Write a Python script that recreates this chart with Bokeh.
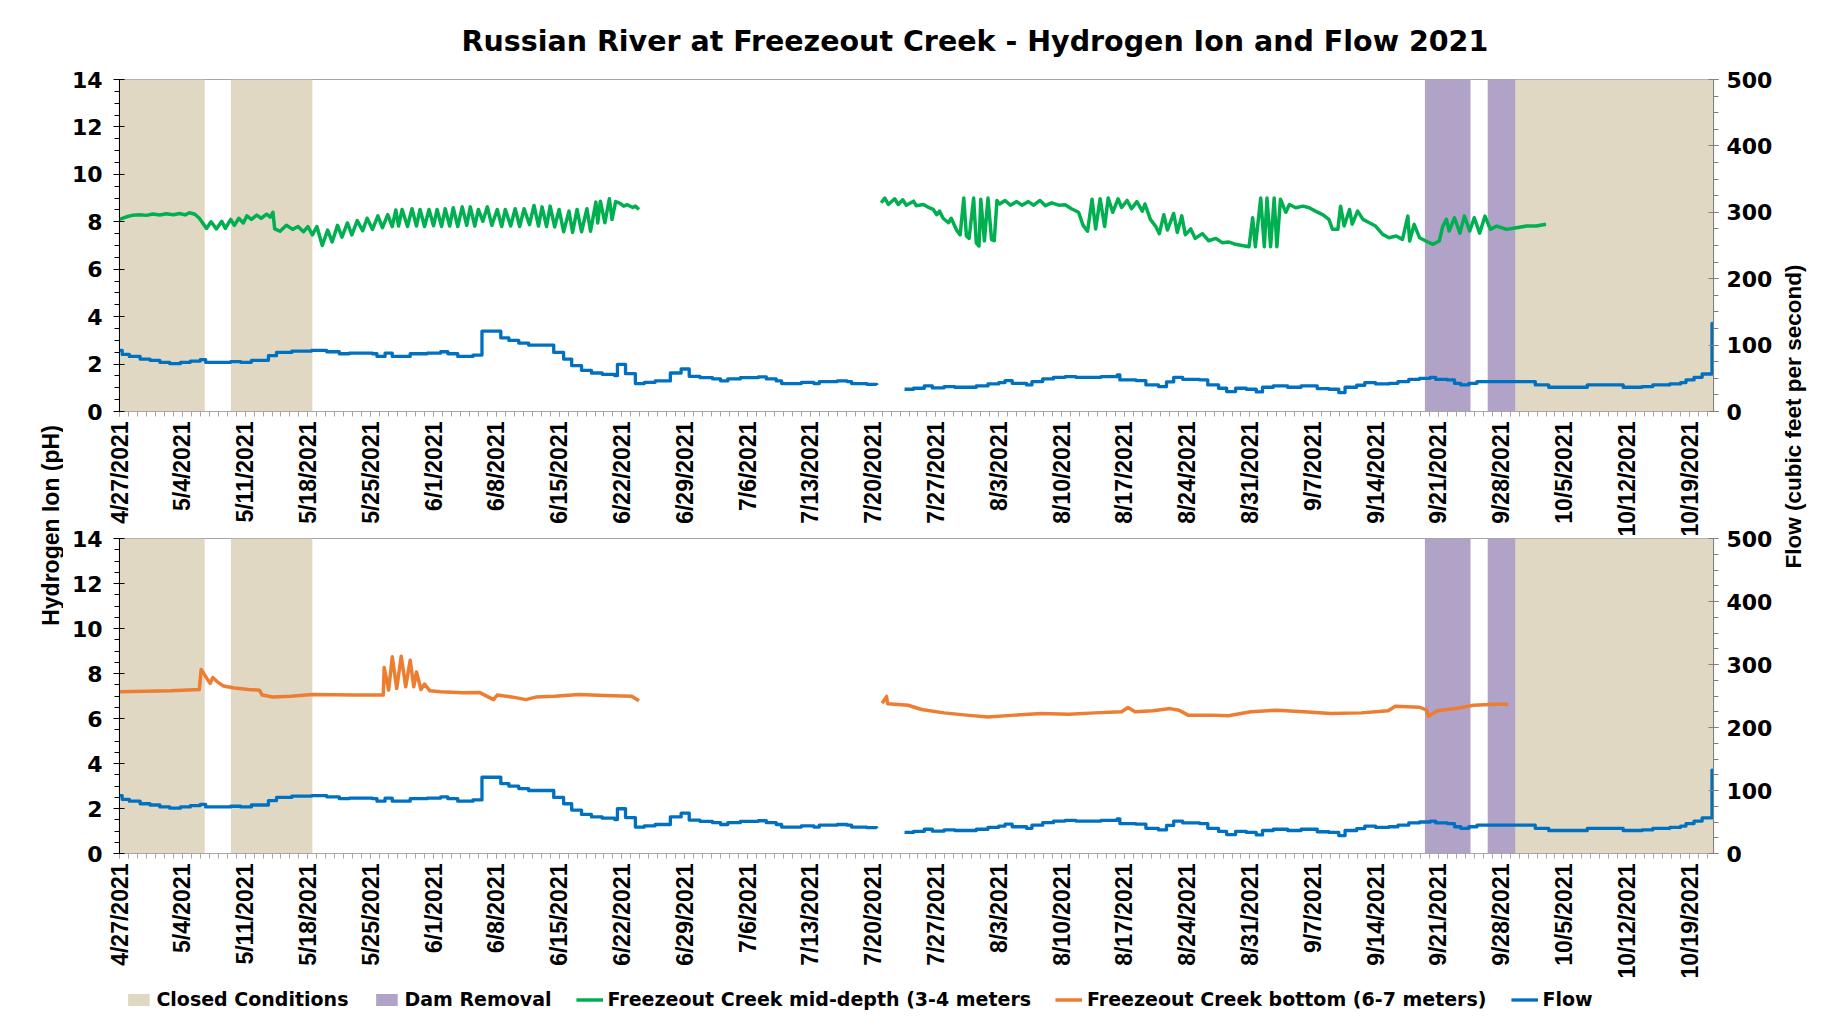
import numpy as np
import pandas as pd
from bokeh.plotting import figure
from bokeh.models import Range1d, LinearAxis, FixedTicker, DatetimeTickFormatter, Label, Legend, LegendItem
from bokeh.layouts import row, column
from bokeh.embed import file_html
from bokeh.resources import INLINE

# ---------------- data ----------------
START = "2021-04-27 00:00"
X_END = "2021-10-21 16:00"

week_labels = ["4/27/2021", "5/4/2021", "5/11/2021", "5/18/2021", "5/25/2021", "6/1/2021",
               "6/8/2021", "6/15/2021", "6/22/2021", "6/29/2021", "7/6/2021", "7/13/2021",
               "7/20/2021", "7/27/2021", "8/3/2021", "8/10/2021", "8/17/2021", "8/24/2021",
               "8/31/2021", "9/7/2021", "9/14/2021", "9/21/2021", "9/28/2021", "10/5/2021",
               "10/12/2021", "10/19/2021"]

closed_start = ["2021-04-27 00:00", "2021-05-09 10:00", "2021-09-29 14:00"]
closed_end = ["2021-05-06 12:00", "2021-05-18 12:00", "2021-10-21 16:00"]
dam_start = ["2021-09-19 12:00", "2021-09-26 12:00"]
dam_end = ["2021-09-24 14:00", "2021-09-29 14:00"]

# mid-depth pH (days since 4/27/2021)
mid1_day = [0.0, 0.7, 1.5, 2.2, 3.0, 3.7, 4.5, 5.2, 6.0, 6.7,
            7.3, 7.8, 8.4, 8.9, 9.7, 10.2, 10.8, 11.4, 11.8, 12.4,
            12.8, 13.3, 13.8, 14.2, 14.7, 15.3, 15.8, 16.4, 16.8, 17.1,
            17.3, 17.9, 18.6, 19.3, 19.9, 20.5, 21.0, 21.5, 22.0, 22.6,
            23.2, 23.7, 24.3, 24.8, 25.4, 25.9, 26.5, 27.1, 27.6, 28.2,
            28.8, 29.3, 29.9, 30.4, 30.8, 31.1, 31.5, 32.1, 32.6, 33.1,
            33.5, 34.0, 34.5, 35.0, 35.4, 35.9, 36.3, 36.8, 37.2, 37.7,
            38.2, 38.7, 39.1, 39.6, 40.0, 40.5, 41.0, 41.5, 42.1, 42.6,
            43.0, 43.6, 44.1, 44.6, 45.1, 45.7, 46.2, 46.7, 47.1, 47.6,
            48.0, 48.5, 49.0, 49.5, 50.1, 50.5, 51.0, 51.5, 52.1, 52.5,
            53.1, 53.3, 53.6, 54.1, 54.6, 54.9, 55.3, 55.8, 56.2, 56.6,
            57.2, 57.5, 57.9]
mid1_ph = [8.10, 8.20, 8.28, 8.30, 8.27, 8.33, 8.29, 8.34, 8.30, 8.35,
           8.29, 8.38, 8.32, 8.15, 7.72, 8.00, 7.70, 8.02, 7.72, 8.10,
           7.85, 8.15, 7.95, 8.25, 8.10, 8.28, 8.15, 8.32, 8.20, 8.40,
           7.70, 7.60, 7.85, 7.68, 7.80, 7.58, 7.80, 7.45, 7.80, 7.00,
           7.65, 7.15, 7.85, 7.35, 7.95, 7.45, 8.05, 7.62, 8.15, 7.68,
           8.25, 7.75, 8.30, 7.80, 8.50, 7.82, 8.52, 7.80, 8.55, 7.82,
           8.52, 7.80, 8.52, 7.83, 8.52, 7.80, 8.55, 7.82, 8.59, 7.80,
           8.63, 7.85, 8.63, 7.82, 8.52, 8.02, 8.63, 7.85, 8.52, 7.80,
           8.52, 7.82, 8.55, 7.80, 8.55, 7.88, 8.69, 7.82, 8.63, 7.80,
           8.66, 7.78, 8.52, 7.58, 8.45, 7.55, 8.52, 7.58, 8.55, 7.60,
           8.83, 7.95, 8.87, 7.96, 8.97, 8.10, 8.85, 8.78, 8.66, 8.72,
           8.60, 8.66, 8.52]

mid2_day = [84.9, 85.3, 85.7, 86.4, 86.8, 87.3, 87.7, 88.5, 88.8, 89.6,
            90.1, 90.7, 91.1, 91.4, 91.8, 92.4, 92.7, 93.3, 93.7, 94.1,
            94.4, 94.7, 95.2, 95.5, 95.8, 96.0, 96.4, 96.8, 97.2, 97.5,
            97.8, 98.1, 98.7, 99.3, 100.0, 100.6, 101.3, 101.9, 102.6, 103.2,
            103.9, 104.7, 105.4, 106.1, 106.9, 107.4, 107.9, 108.4, 108.8, 109.3,
            109.8, 110.2, 110.7, 111.3, 111.7, 112.3, 112.8, 113.4, 114.0, 114.3,
            114.9, 115.5, 115.9, 116.4, 116.8, 117.5, 117.9, 118.4, 118.8, 119.4,
            119.9, 120.7, 121.4, 122.2, 122.9, 123.6, 124.4, 125.1, 125.9, 126.3,
            126.6, 127.2, 127.6, 127.9, 128.3, 128.7, 129.0, 129.4, 130.0, 130.4,
            131.1, 131.9, 132.6, 133.3, 134.1, 134.8, 135.2, 135.8, 136.1, 136.5,
            137.1, 137.4, 138.0, 138.6, 139.3, 140.0, 140.8, 141.5, 142.3, 143.0,
            143.6, 143.8, 144.3, 144.9, 145.6, 146.4, 147.1, 147.5, 147.9, 148.2,
            148.8, 149.4, 149.9, 150.5, 151.0, 151.6, 152.2, 152.8, 153.5, 154.6,
            155.7, 156.8, 157.9, 159.0]
mid2_ph = [8.80, 9.00, 8.73, 8.97, 8.73, 8.93, 8.70, 8.87, 8.68, 8.73,
           8.62, 8.52, 8.30, 8.45, 8.15, 7.96, 8.15, 7.65, 7.45, 9.00,
           7.40, 7.30, 9.00, 7.10, 6.98, 8.95, 7.20, 9.00, 7.25, 7.20,
           8.90, 8.75, 8.90, 8.70, 8.85, 8.70, 8.85, 8.70, 8.90, 8.68,
           8.80, 8.70, 8.72, 8.55, 8.40, 7.85, 7.60, 8.95, 7.70, 8.97,
           7.80, 9.00, 8.40, 8.97, 8.60, 8.90, 8.55, 8.85, 8.45, 8.75,
           8.10, 7.80, 7.50, 8.30, 7.65, 8.35, 7.55, 8.25, 7.45, 7.70,
           7.30, 7.50, 7.20, 7.30, 7.12, 7.15, 7.05, 7.00, 6.95, 8.17,
           6.95, 9.00, 6.95, 9.00, 6.95, 9.00, 6.95, 8.95, 8.40, 8.73,
           8.59, 8.66, 8.59, 8.45, 8.30, 8.10, 7.68, 7.68, 8.66, 7.82,
           8.52, 7.90, 8.45, 8.10, 7.96, 7.82, 7.47, 7.33, 7.40, 7.26,
           8.24, 7.19, 7.89, 7.33, 7.19, 7.05, 7.19, 7.82, 8.10, 7.61,
           8.17, 7.52, 8.24, 7.61, 8.17, 7.52, 8.24, 7.68, 7.82, 7.68,
           7.75, 7.82, 7.82, 7.90]

# bottom pH
bot1_day = [0.0, 5.7, 8.9, 9.1, 9.5, 10.1, 10.4, 10.9, 11.6, 12.8,
            14.4, 15.6, 15.9, 17.1, 19.1, 21.5, 26.2, 29.4, 29.5, 30.0,
            30.4, 30.9, 31.4, 31.9, 32.4, 32.8, 33.1, 33.6, 34.0, 34.6,
            35.8, 38.2, 40.1, 41.7, 42.1, 43.7, 45.3, 46.5, 48.5, 51.2,
            54.0, 57.1, 57.9]
bot1_ph = [7.19, 7.23, 7.29, 8.18, 7.93, 7.56, 7.82, 7.63, 7.44, 7.36,
           7.29, 7.26, 7.04, 6.96, 6.99, 7.07, 7.04, 7.04, 8.27, 7.26,
           8.74, 7.33, 8.77, 7.41, 8.59, 7.41, 8.07, 7.29, 7.53, 7.23,
           7.19, 7.14, 7.16, 6.84, 7.04, 6.96, 6.84, 6.96, 6.99, 7.07,
           7.02, 6.99, 6.79]
bot2_day = [85.0, 85.5, 85.6, 87.9, 89.4, 91.9, 94.4, 96.8, 99.8, 102.8,
            105.8, 108.7, 111.7, 112.4, 113.2, 115.2, 117.1, 118.1, 119.1, 121.6,
            123.6, 126.1, 129.0, 132.0, 135.0, 138.4, 141.4, 142.2, 144.9, 145.7,
            145.9, 146.9, 148.9, 150.9, 153.4, 154.8]
bot2_ph = [6.68, 6.98, 6.66, 6.59, 6.40, 6.25, 6.15, 6.07, 6.15, 6.22,
           6.19, 6.25, 6.30, 6.49, 6.30, 6.34, 6.44, 6.37, 6.15, 6.15,
           6.12, 6.30, 6.37, 6.30, 6.22, 6.25, 6.34, 6.54, 6.50, 6.37,
           6.10, 6.34, 6.44, 6.59, 6.63, 6.63]

# flow (cfs)
flow1_day = [0.0, 0.3, 1.1, 2.3, 3.4, 4.5, 5.6, 6.8, 7.9, 9.0,
             9.6, 11.3, 12.4, 13.5, 14.7, 16.6, 17.5, 19.2, 21.4, 23.1,
             24.5, 25.6, 28.2, 28.7, 29.6, 30.4, 32.4, 34.3, 35.8, 36.6,
             37.7, 39.4, 40.4, 42.5, 43.4, 44.5, 45.6, 48.4, 49.5, 50.4,
             51.5, 52.6, 53.8, 55.2, 55.5, 56.4, 57.5, 58.5, 59.7, 61.4,
             62.6, 63.5, 64.7, 66.1, 67.0, 67.8, 69.2, 71.2, 72.1, 73.2,
             73.8, 76.0, 77.4, 78.0, 80.0, 81.1, 81.6, 83.3, 84.4]
flow1_cfs = [92, 86, 83, 79, 77, 74, 72, 74, 76, 78,
             74, 74, 75, 74, 77, 84, 89, 91, 92, 90,
             87, 88, 87, 83, 88, 83, 87, 88, 90, 87,
             83, 85, 121, 111, 107, 103, 100, 89, 79, 69,
             62, 58, 56, 54, 71, 57, 42, 44, 46, 58,
             64, 53, 51, 49, 46, 49, 51, 52, 49, 46,
             42, 44, 42, 45, 46, 45, 42, 41, 40]
flow2_day = [87.5, 88.5, 89.7, 90.6, 91.9, 93.1, 95.5, 96.8, 98.0, 98.7,
             99.5, 101.1, 101.7, 102.9, 104.1, 105.4, 106.6, 109.4, 111.2, 111.5,
             113.3, 114.4, 115.8, 116.7, 117.5, 118.5, 120.4, 121.3, 122.5, 123.4,
             124.4, 125.6, 126.7, 127.4, 128.6, 130.2, 131.7, 133.5, 134.8, 135.9,
             136.6, 137.9, 138.8, 140.0, 141.5, 142.5, 143.7, 144.9, 146.1, 146.7,
             148.0, 148.8, 149.5, 150.4, 151.3, 157.8, 159.3, 163.6, 167.6, 169.7,
             170.9, 172.8, 174.0, 174.6, 175.5, 176.4, 177.5, 177.6]
flow2_cfs = [33.5, 35, 38.5, 35.5, 37.5, 36.5, 38.5, 41.5, 43.5, 46.5,
             42.5, 40, 45, 49, 51.5, 52.5, 51.5, 52.5, 55, 47.5,
             46.5, 40, 37.5, 44.5, 51.5, 48.5, 47.5, 40, 35, 30,
             35, 33.5, 29.5, 36.5, 38.5, 36.5, 38.5, 34.5, 33.5, 28.5,
             36.5, 39.5, 43.5, 41.5, 42.5, 45, 48.5, 50, 51.5, 48.5,
             47.5, 42.5, 40, 42.5, 45, 40, 36.5, 40, 36.5, 37.5,
             40, 41.5, 43.5, 47.5, 51.5, 56.5, 132.5, 132.5]

# ---------------- helpers ----------------
t0 = pd.Timestamp(START)
t_end = pd.Timestamp(X_END)


def to_dt(days):
    return t0 + pd.to_timedelta(np.array(days, dtype=float), unit="D")


def pair(d, v):
    n = min(len(d), len(v))
    return to_dt(d[:n]), list(v[:n])


def ms(ts):
    return int(pd.Timestamp(ts).value // 10**6)


tick_ms = [ms(pd.to_datetime(s, format="%m/%d/%Y")) for s in week_labels]
minor_ms = [ms(d) for d in pd.date_range(t0, t_end, freq="D")]
overrides = {t: s for t, s in zip(tick_ms, week_labels)}

FONT = "Liberation Sans"
WIDE = "DejaVu Sans"
GREEN = "#00B050"
ORANGE = "#ED7D31"
BLUE = "#0070C0"
BEIGE = "#E0D8C3"
PURPLE = "#B1A2C8"
MID_W = 1712
TOTAL_H = 1014


def no_axes_fig(width, height):
    f = figure(width=width, height=height, x_range=Range1d(0, width), y_range=Range1d(0, height),
               output_backend="svg", toolbar_location=None,
               x_axis_location=None, y_axis_location=None,
               min_border_left=0, min_border_right=0, min_border_top=0, min_border_bottom=0)
    f.outline_line_color = None
    f.xgrid.visible = False
    f.ygrid.visible = False
    return f


def make_panel(height, top, bottom, left, ph_segments, ph_color):
    p = figure(width=MID_W, height=height, x_axis_type="datetime",
               x_range=Range1d(t0, t_end), y_range=Range1d(0, 14),
               output_backend="svg", toolbar_location=None,
               min_border_left=left, min_border_right=62,
               min_border_top=top, min_border_bottom=bottom)
    p.extra_y_ranges = {"flow": Range1d(0, 500)}
    p.xgrid.visible = False
    p.ygrid.visible = False
    p.outline_line_color = "#A6A6A6"
    p.outline_line_width = 1.2
    p.background_fill_color = "white"

    p.quad(left=pd.to_datetime(closed_start), right=pd.to_datetime(closed_end),
           bottom=0, top=14, fill_color=BEIGE, line_color=None)
    p.quad(left=pd.to_datetime(dam_start), right=pd.to_datetime(dam_end),
           bottom=0, top=14, fill_color=PURPLE, line_color=None)

    for d, v in ph_segments:
        x, y = pair(d, v)
        p.line(x, y, line_color=ph_color, line_width=3.5, line_join="round")
    for d, v in ((flow1_day, flow1_cfs), (flow2_day, flow2_cfs)):
        x, y = pair(d, v)
        p.step(x, y, mode="after", y_range_name="flow", line_color=BLUE,
               line_width=3.3, line_join="round")

    # x axis
    xa = p.xaxis[0]
    xa.ticker = FixedTicker(ticks=tick_ms, minor_ticks=minor_ms)
    xa.formatter = DatetimeTickFormatter(days="%m/%d/%Y", months="%m/%d/%Y",
                                         years="%m/%d/%Y", hours="%m/%d/%Y")
    xa.major_label_overrides = overrides
    xa.major_label_orientation = np.pi / 2
    xa.major_label_text_font = FONT
    xa.major_label_text_font_style = "bold"
    xa.major_label_text_font_size = "23px"
    xa.major_label_text_color = "black"
    xa.major_label_standoff = 5
    xa.axis_line_color = "#A6A6A6"
    xa.major_tick_line_color = "#A6A6A6"
    xa.minor_tick_line_color = "#A6A6A6"
    xa.major_tick_in = 0
    xa.major_tick_out = 5
    xa.minor_tick_in = 0
    xa.minor_tick_out = 5

    # left axis
    ya = p.yaxis[0]
    ya.ticker = FixedTicker(ticks=list(range(0, 15, 2)),
                            minor_ticks=[i * 0.5 for i in range(29)])
    ya.major_label_text_font = WIDE
    ya.major_label_text_font_style = "bold"
    ya.major_label_text_font_size = "22px"
    ya.major_label_text_color = "black"
    ya.axis_line_color = "black"
    ya.major_tick_line_color = "black"
    ya.minor_tick_line_color = "black"
    ya.major_tick_in = 5
    ya.major_tick_out = 6
    ya.minor_tick_in = 0
    ya.minor_tick_out = 5
    ya.major_label_standoff = 11

    # right axis
    ra = LinearAxis(y_range_name="flow")
    ra.ticker = FixedTicker(ticks=list(range(0, 501, 100)),
                            minor_ticks=list(range(0, 501, 25)))
    ra.major_label_text_font = WIDE
    ra.major_label_text_font_style = "bold"
    ra.major_label_text_font_size = "22px"
    ra.major_label_text_color = "black"
    ra.axis_line_color = "#808080"
    ra.major_tick_line_color = "#808080"
    ra.minor_tick_line_color = "#808080"
    ra.major_tick_in = 5
    ra.major_tick_out = 5
    ra.minor_tick_in = 0
    ra.minor_tick_out = 5
    ra.major_label_standoff = 8
    p.add_layout(ra, "right")
    return p


top = make_panel(542, 78, 131, 56, [(mid1_day, mid1_ph), (mid2_day, mid2_ph)], GREEN)
top.border_fill_color = "white"
bottom = make_panel(460, 14, 131, 50, [(bot1_day, bot1_ph), (bot2_day, bot2_ph)], ORANGE)
bottom.border_fill_alpha = 0
bottom.styles = {"margin-top": "-18px"}

top.title.text = "Russian River at Freezeout Creek - Hydrogen Ion and Flow 2021"
top.title.align = "left"
top.title.offset = 342
top.title.standoff = 44
top.title.text_font = WIDE
top.title.text_font_style = "bold"
top.title.text_font_size = "28.5px"
top.title.text_color = "black"

# legend strip (proxy glyphs kept outside the visible range; only their styles are shown)
LEG_W = 1597
leg = no_axes_fig(LEG_W, 30)
OFF = [-500, -490]
lc = leg.quad(left=[OFF[0]], right=[OFF[1]], bottom=[OFF[0]], top=[OFF[1]],
              fill_color=BEIGE, line_color=None)
ld = leg.quad(left=[OFF[0]], right=[OFF[1]], bottom=[OFF[0]], top=[OFF[1]],
              fill_color=PURPLE, line_color=None)
lg = leg.line(x=OFF, y=OFF, line_color=GREEN, line_width=3.5)
lo = leg.line(x=OFF, y=OFF, line_color=ORANGE, line_width=3.5)
lf = leg.line(x=OFF, y=OFF, line_color=BLUE, line_width=3.3)
legend = Legend(items=[
    LegendItem(label="Closed Conditions", renderers=[lc]),
    LegendItem(label="Dam Removal", renderers=[ld]),
    LegendItem(label="Freezeout Creek mid-depth (3-4 meters", renderers=[lg]),
    LegendItem(label="Freezeout Creek bottom (6-7 meters)", renderers=[lo]),
    LegendItem(label="Flow", renderers=[lf]),
], orientation="horizontal", location="center", padding=0, margin=0,
    spacing=24, label_standoff=5, glyph_width=27, glyph_height=15,
    label_text_font=WIDE, label_text_font_style="bold", label_text_font_size="19px",
    label_text_color="black",
    border_line_alpha=0, background_fill_alpha=0)
leg.add_layout(legend)


def side_fig(width, label_x, label_y, text, size):
    f = no_axes_fig(width, TOTAL_H)
    f.add_layout(Label(x=label_x, y=label_y, text=text, angle=np.pi / 2,
                       text_align="center", text_baseline="middle", text_font=FONT,
                       text_font_style="bold", text_font_size=size, text_color="black"))
    return f


left_fig = side_fig(63, 50, TOTAL_H - 525, "Hydrogen Ion (pH)", "23px")
right_fig = side_fig(49, 18, TOTAL_H - 416, "Flow (cubic feet per second)", "22.5px")

layout = row(left_fig, column(top, bottom, leg), right_fig)
open("out.html", "w").write(file_html(layout, INLINE))
